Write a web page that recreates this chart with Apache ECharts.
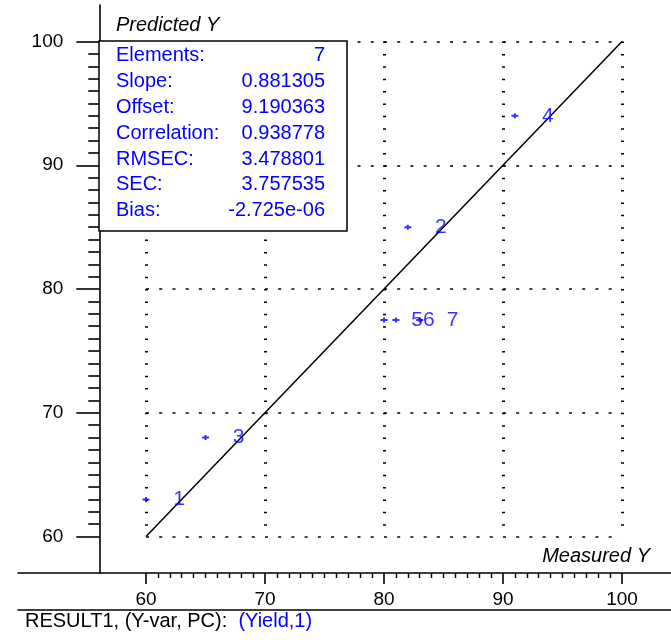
<!DOCTYPE html>
<html>
<head>
<meta charset="utf-8">
<script src="https://cdn.jsdelivr.net/npm/echarts@6/dist/echarts.min.js"></script>
<style>
html, body { margin: 0; padding: 0; background: #fff; }
#chart { width: 671px; height: 640px; }
</style>
</head>
<body>
<div id="chart"></div>
<script>
// values
var measured = [60, 82, 65, 91, 80, 81, 83];
var predicted = [63, 85, 68, 94, 77.5, 77.5, 77.5];
var sampleNames = ['1', '2', '3', '4', '5', '6', '7'];
var targetLine = [60, 100];
var axisRange = [60, 100];
var statNames = ['Elements:', 'Slope:', 'Offset:', 'Correlation:', 'RMSEC:', 'SEC:', 'Bias:'];
var statValues = ['7', '0.881305', '9.190363', '0.938778', '3.478801', '3.757535', '-2.725e-06'];

var FONT = 'Liberation Sans, Arial, sans-serif';
var BLUE = '#0000ff';

var statText = statNames.map(function (n, i) {
  return '{n|' + n + '}{v|' + statValues[i] + '}';
}).join('\n');

var pts = measured.map(function (m, i) { return [m, predicted[i]]; });

var chart = echarts.init(document.getElementById('chart'));
chart.setOption({
  animation: false,
  title: [
    {
      text: 'Predicted Y', left: 116, top: 15, padding: 0,
      textStyle: { fontFamily: FONT, fontSize: 20, fontStyle: 'italic', fontWeight: 'normal', color: '#000' }
    },
    {
      text: 'Measured Y', right: 21, top: 546, padding: 0,
      textStyle: { fontFamily: FONT, fontSize: 20, fontStyle: 'italic', fontWeight: 'normal', color: '#000' }
    },
    {
      text: 'RESULT1, (Y-var, PC):  {b|(Yield,1)}', left: 25, top: 611, padding: 0,
      textStyle: {
        fontFamily: FONT, fontSize: 20, fontWeight: 'normal', color: '#000',
        rich: { b: { fontFamily: FONT, fontSize: 20, color: BLUE } }
      }
    },
    {
      text: statText, left: 99, top: 41, padding: [2, 22, 8, 17],
      backgroundColor: '#fff', borderColor: '#000', borderWidth: 1.5,
      textStyle: {
        fontFamily: FONT, fontSize: 20, fontWeight: 'normal', color: BLUE, lineHeight: 25.8,
        rich: {
          n: { fontFamily: FONT, fontSize: 20, color: BLUE, width: 110, align: 'left', lineHeight: 25.8 },
          v: { fontFamily: FONT, fontSize: 20, color: BLUE, width: 99, align: 'right', lineHeight: 25.8 }
        }
      }
    }
  ],
  grid: [
    { left: 146, top: 41.5, width: 476, height: 495, outerBoundsMode: 'none' },
    { left: 18, right: 0, top: 5, bottom: 67, outerBoundsMode: 'none' }
  ],
  xAxis: [
    {
      type: 'value', gridIndex: 0, min: axisRange[0], max: axisRange[1], interval: 10,
      position: 'bottom', offset: 36.5,
      axisLine: { show: false, onZero: false },
      axisTick: { show: true, inside: false, length: 11, lineStyle: { color: '#000', width: 1.6 } },
      minorTick: { show: true, splitNumber: 10, length: 5, lineStyle: { color: '#000', width: 1.4 } },
      axisLabel: { margin: 17, color: '#000', fontFamily: FONT, fontSize: 19 },
      splitLine: { show: true, lineStyle: { color: '#000', width: 3, type: [1.5, 10.875] } }
    },
    {
      type: 'value', gridIndex: 1, min: 0, max: 1, position: 'bottom',
      axisLine: { show: true, onZero: false, lineStyle: { color: '#000', width: 1.6 } },
      axisTick: { show: false }, axisLabel: { show: false }, splitLine: { show: false }
    },
    {
      type: 'value', gridIndex: 1, min: 0, max: 1, position: 'bottom', offset: 37,
      axisLine: { show: true, onZero: false, lineStyle: { color: '#000', width: 1.6 } },
      axisTick: { show: false }, axisLabel: { show: false }, splitLine: { show: false }
    }
  ],
  yAxis: [
    {
      type: 'value', gridIndex: 0, min: axisRange[0], max: axisRange[1], interval: 10,
      position: 'left', offset: 46.7,
      axisLine: { show: false, onZero: false },
      axisTick: { show: true, inside: false, length: 23, lineStyle: { color: '#000', width: 1.6 } },
      minorTick: { show: true, splitNumber: 10, length: 11, lineStyle: { color: '#000', width: 1.6 } },
      axisLabel: { margin: 36, color: '#000', fontFamily: FONT, fontSize: 19 },
      splitLine: { show: true, lineStyle: { color: '#000', width: 1.5, type: [3, 10.22] } }
    },
    {
      type: 'value', gridIndex: 1, min: 0, max: 1, position: 'left', offset: -81.3,
      axisLine: { show: true, onZero: false, lineStyle: { color: '#000', width: 1.6 } },
      axisTick: { show: false }, axisLabel: { show: false }, splitLine: { show: false }
    }
  ],
  series: [
    {
      type: 'line', xAxisIndex: 0, yAxisIndex: 0, silent: true, symbol: 'none', z: 1,
      data: [[targetLine[0], targetLine[0]], [targetLine[1], targetLine[1]]],
      lineStyle: { color: '#000', width: 1.5 }
    },
    {
      type: 'scatter', xAxisIndex: 0, yAxisIndex: 0, silent: true, z: 3,
      symbol: 'path://M0,1.5H7V3.5H0Z M2.5,0H4.5V5H2.5Z', symbolSize: [7, 5],
      itemStyle: { color: BLUE },
      data: pts,
      label: {
        show: true, position: 'inside', offset: [33, 0],
        color: BLUE, fontFamily: FONT, fontSize: 21,
        formatter: function (p) { return sampleNames[p.dataIndex]; }
      }
    }
  ]
});
</script>
</body>
</html>
